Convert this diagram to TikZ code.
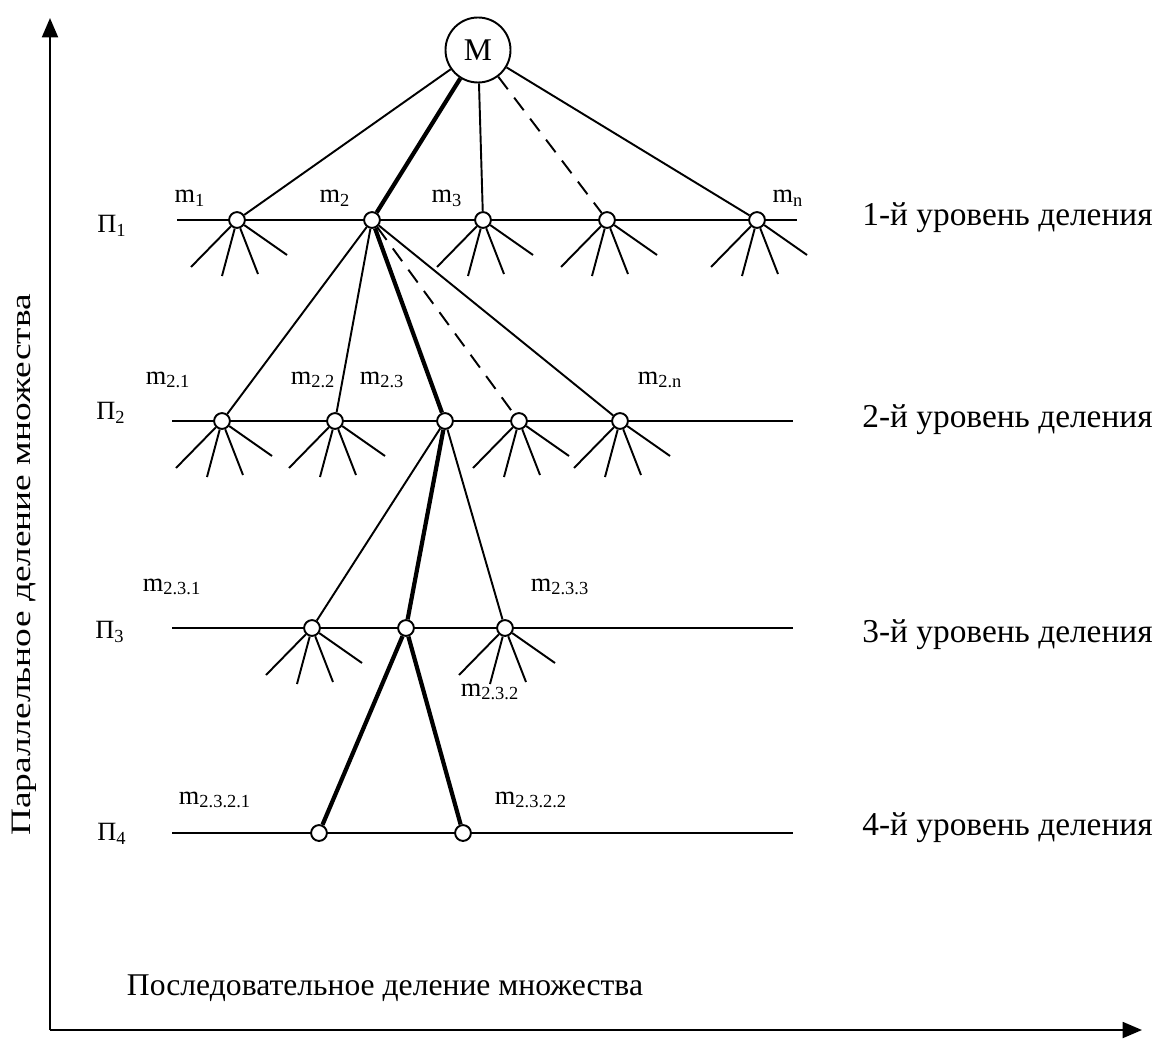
\documentclass[tikz,border=0pt]{standalone}
\usepackage{fontspec}
\setmainfont{Liberation Serif}
\usetikzlibrary{arrows.meta}
\newcommand\lab[2]{#1\textsubscript{#2}}
\begin{document}
\begin{tikzpicture}[x=0.02cm,y=-0.02cm,
  thinline/.style={line width=1.1pt},
  thickline/.style={line width=2.4pt},
  dashline/.style={line width=1.1pt,dash pattern=on 9pt off 6pt},
  levelline/.style={line width=1.1pt},
  spoke/.style={line width=1.1pt},
  axis/.style={line width=1.4pt,-{Triangle[width=9pt,length=11pt]}},
  pt/.style={circle,draw,fill=white,line width=1.1pt,minimum size=9pt,inner sep=0pt},
  big/.style={circle,draw,fill=white,line width=1.1pt,minimum size=37pt,inner sep=0pt,font=\fontsize{18}{20}\selectfont},
  txt/.style={font=\fontsize{18}{20}\selectfont,inner sep=0pt},
  vtxt/.style={font=\fontsize{16}{18}\selectfont,inner sep=0pt,rotate=90},
  sublab/.style={font=\fontsize{15}{17}\selectfont,inner sep=0pt},
  lvl/.style={font=\fontsize{19}{21}\selectfont,inner sep=0pt,anchor=west}
]
\useasboundingbox (0,0) rectangle (1168,1047);
% axes
\coordinate (O) at (50,1030);
\coordinate (Ytop) at (50,18);
\coordinate (Xend) at (1142,1030);
\draw[axis] (O) -- (Ytop);
\draw[axis] (O) -- (Xend);
\node[vtxt] (ylab) at (24,565) {\scalebox{1.33}[1]{Параллельное деление множества}};
\node[txt] (xlab) at (385,988) {Последовательное деление множества};

% level lines
\coordinate (L1a) at (177,220); \coordinate (L1b) at (797,220);
\coordinate (L2a) at (172,421); \coordinate (L2b) at (793,421);
\coordinate (L3a) at (172,628); \coordinate (L3b) at (793,628);
\coordinate (L4a) at (172,833); \coordinate (L4b) at (793,833);
\draw[levelline] (L1a) -- (L1b);
\draw[levelline] (L2a) -- (L2b);
\draw[levelline] (L3a) -- (L3b);
\draw[levelline] (L4a) -- (L4b);

% nodes
\node[big] (M) at (478,50) {М};
\node[pt] (a1) at (237,220) {};
\node[pt] (a2) at (372,220) {};
\node[pt] (a3) at (483,220) {};
\node[pt] (a4) at (607,220) {};
\node[pt] (a5) at (757,220) {};
\node[pt] (b1) at (222,421) {};
\node[pt] (b2) at (335,421) {};
\node[pt] (b3) at (445,421) {};
\node[pt] (b4) at (519,421) {};
\node[pt] (b5) at (620,421) {};
\node[pt] (c1) at (312,628) {};
\node[pt] (c2) at (406,628) {};
\node[pt] (c3) at (505,628) {};
\node[pt] (d1) at (319,833) {};
\node[pt] (d2) at (463,833) {};

% connectors
\draw[thinline] (M) -- (a1);
\draw[thickline] (M) -- (a2);
\draw[thinline] (M) -- (a3);
\draw[dashline] (M) -- (a4);
\draw[thinline] (M) -- (a5);
\draw[thinline] (a2) -- (b1);
\draw[thinline] (a2) -- (b2);
\draw[thickline] (a2) -- (b3);
\draw[dashline] (a2) -- (b4);
\draw[thinline] (a2) -- (b5);
\draw[thinline] (b3) -- (c1);
\draw[thickline] (b3) -- (c2);
\draw[thinline] (b3) -- (c3);
\draw[thickline] (c2) -- (d1);
\draw[thickline] (c2) -- (d2);

% spokes
\foreach \n in {a1,a3,a4,a5,b1,b2,b4,b5,c1,c3}{
  \draw[spoke] (\n) -- ++(-46,47);
  \draw[spoke] (\n) -- ++(-15,56);
  \draw[spoke] (\n) -- ++(21,54);
  \draw[spoke] (\n) -- ++(50,35);
}

% labels
\node[sublab] (lm1) at (190,198) {\lab{m}{1}};
\node[sublab] (lm2) at (335,198) {\lab{m}{2}};
\node[sublab] (lm3) at (447,198) {\lab{m}{3}};
\node[sublab] (lmn) at (788,198) {\lab{m}{n}};
\node[sublab] (lm21) at (168,380) {\lab{m}{2.1}};
\node[sublab] (lm22) at (313,380) {\lab{m}{2.2}};
\node[sublab] (lm23) at (382,380) {\lab{m}{2.3}};
\node[sublab] (lm2n) at (660,380) {\lab{m}{2.n}};
\node[sublab] (lm231) at (172,587) {\lab{m}{2.3.1}};
\node[sublab] (lm233) at (560,587) {\lab{m}{2.3.3}};
\node[sublab] (lm232) at (490,692) {\lab{m}{2.3.2}};
\node[sublab] (lm2321) at (215,800) {\lab{m}{2.3.2.1}};
\node[sublab] (lm2322) at (531,800) {\lab{m}{2.3.2.2}};
\node[sublab] (p1) at (112,226) {\lab{П}{1}};
\node[sublab] (p2) at (111,413) {\lab{П}{2}};
\node[sublab] (p3) at (110,632) {\lab{П}{3}};
\node[sublab] (p4) at (112,834) {\lab{П}{4}};

\node[lvl] (r1) at (862,218) {1-й уровень деления};
\node[lvl] (r2) at (862,420) {2-й уровень деления};
\node[lvl] (r3) at (862,635) {3-й уровень деления};
\node[lvl] (r4) at (862,828) {4-й уровень деления};
\end{tikzpicture}
\end{document}
